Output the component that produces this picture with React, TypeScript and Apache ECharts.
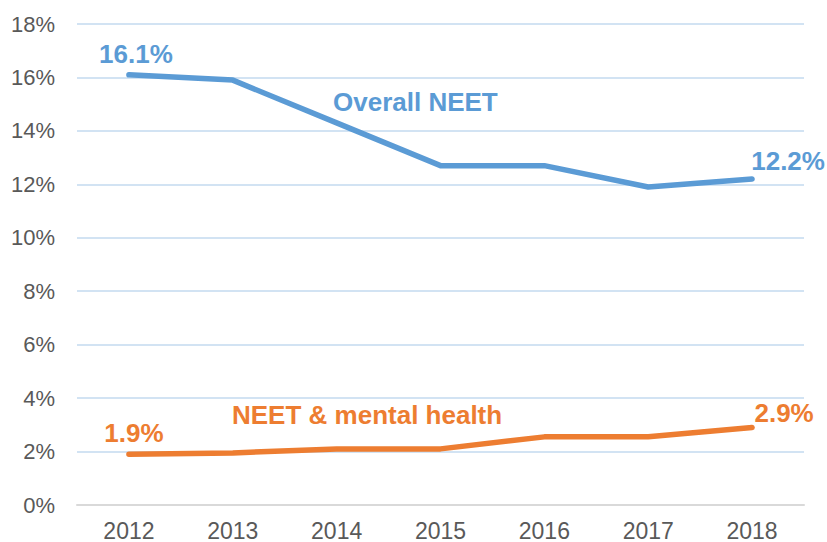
import React, { useEffect, useRef } from "react";
import * as echarts from "echarts";

const years = ["2012", "2013", "2014", "2015", "2016", "2017", "2018"];
const overallNeet = [16.1, 15.9, 14.3, 12.7, 12.7, 11.9, 12.2];
const neetMental = [1.9, 1.95, 2.1, 2.1, 2.55, 2.55, 2.9];
const yTicks = { min: 0, max: 18, interval: 2 };

const BLUE = "#5B9BD5";
const ORANGE = "#ED7D31";
const FONT = "'Liberation Sans', Arial, sans-serif";

function withEndLabels(values: number[], color: string, firstOffset: number[], lastOffset: number[]) {
  return values.map((v, i) => {
    if (i === 0 || i === values.length - 1) {
      return {
        value: v,
        label: {
          show: true,
          position: "top",
          distance: 5,
          offset: i === 0 ? firstOffset : lastOffset,
          formatter: (p: any) => `${p.value}%`,
          color,
          fontSize: 26,
          fontWeight: "bold",
          fontFamily: FONT,
        },
      };
    }
    return v;
  });
}

export default function App() {
  const ref = useRef<HTMLDivElement>(null);
  useEffect(() => {
    if (!ref.current) return;
    const chart = echarts.init(ref.current, undefined, { renderer: "svg" });
    chart.setOption({
      animation: false,
      backgroundColor: "#ffffff",
      grid: { left: 77, right: 23, top: 24, bottom: 36 },
      xAxis: {
        type: "category",
        data: years,
        boundaryGap: true,
        axisLine: { lineStyle: { color: "#d9d9d9", width: 2 } },
        axisTick: { show: false },
        axisLabel: { color: "#595959", fontSize: 23, fontFamily: FONT, margin: 14 },
      },
      yAxis: {
        type: "value",
        min: yTicks.min,
        max: yTicks.max,
        interval: yTicks.interval,
        axisLine: { show: false },
        axisTick: { show: false },
        axisLabel: {
          color: "#595959",
          fontSize: 22,
          fontFamily: FONT,
          margin: 22,
          formatter: (v: number) => `${v}%`,
        },
        splitLine: { lineStyle: { color: "#d2e3f3", width: 2 } },
      },
      series: [
        {
          type: "line",
          data: withEndLabels(overallNeet, BLUE, [7, -2], [36, 1]),
          symbol: "circle",
          symbolSize: 1,
          showSymbol: true,
          lineStyle: { color: BLUE, width: 5.5, cap: "round", join: "round" },
          itemStyle: { color: BLUE },
        },
        {
          type: "line",
          data: withEndLabels(neetMental, ORANGE, [5, -3], [32, 4]),
          symbol: "circle",
          symbolSize: 1,
          showSymbol: true,
          lineStyle: { color: ORANGE, width: 5.5, cap: "round", join: "round" },
          itemStyle: { color: ORANGE },
        },
      ],
      graphic: [
        {
          type: "text",
          left: 333,
          top: 89,
          style: { text: "Overall NEET", fill: BLUE, font: `bold 26px ${FONT}` },
        },
        {
          type: "text",
          left: 232,
          top: 402,
          style: { text: "NEET & mental health", fill: ORANGE, font: `bold 26px ${FONT}` },
        },
      ],
    });
    return () => chart.dispose();
  }, []);
  return (
    <div
      ref={ref}
      style={{ position: "fixed", left: 0, top: 0, width: 827, height: 542, background: "#fff" }}
    />
  );
}
